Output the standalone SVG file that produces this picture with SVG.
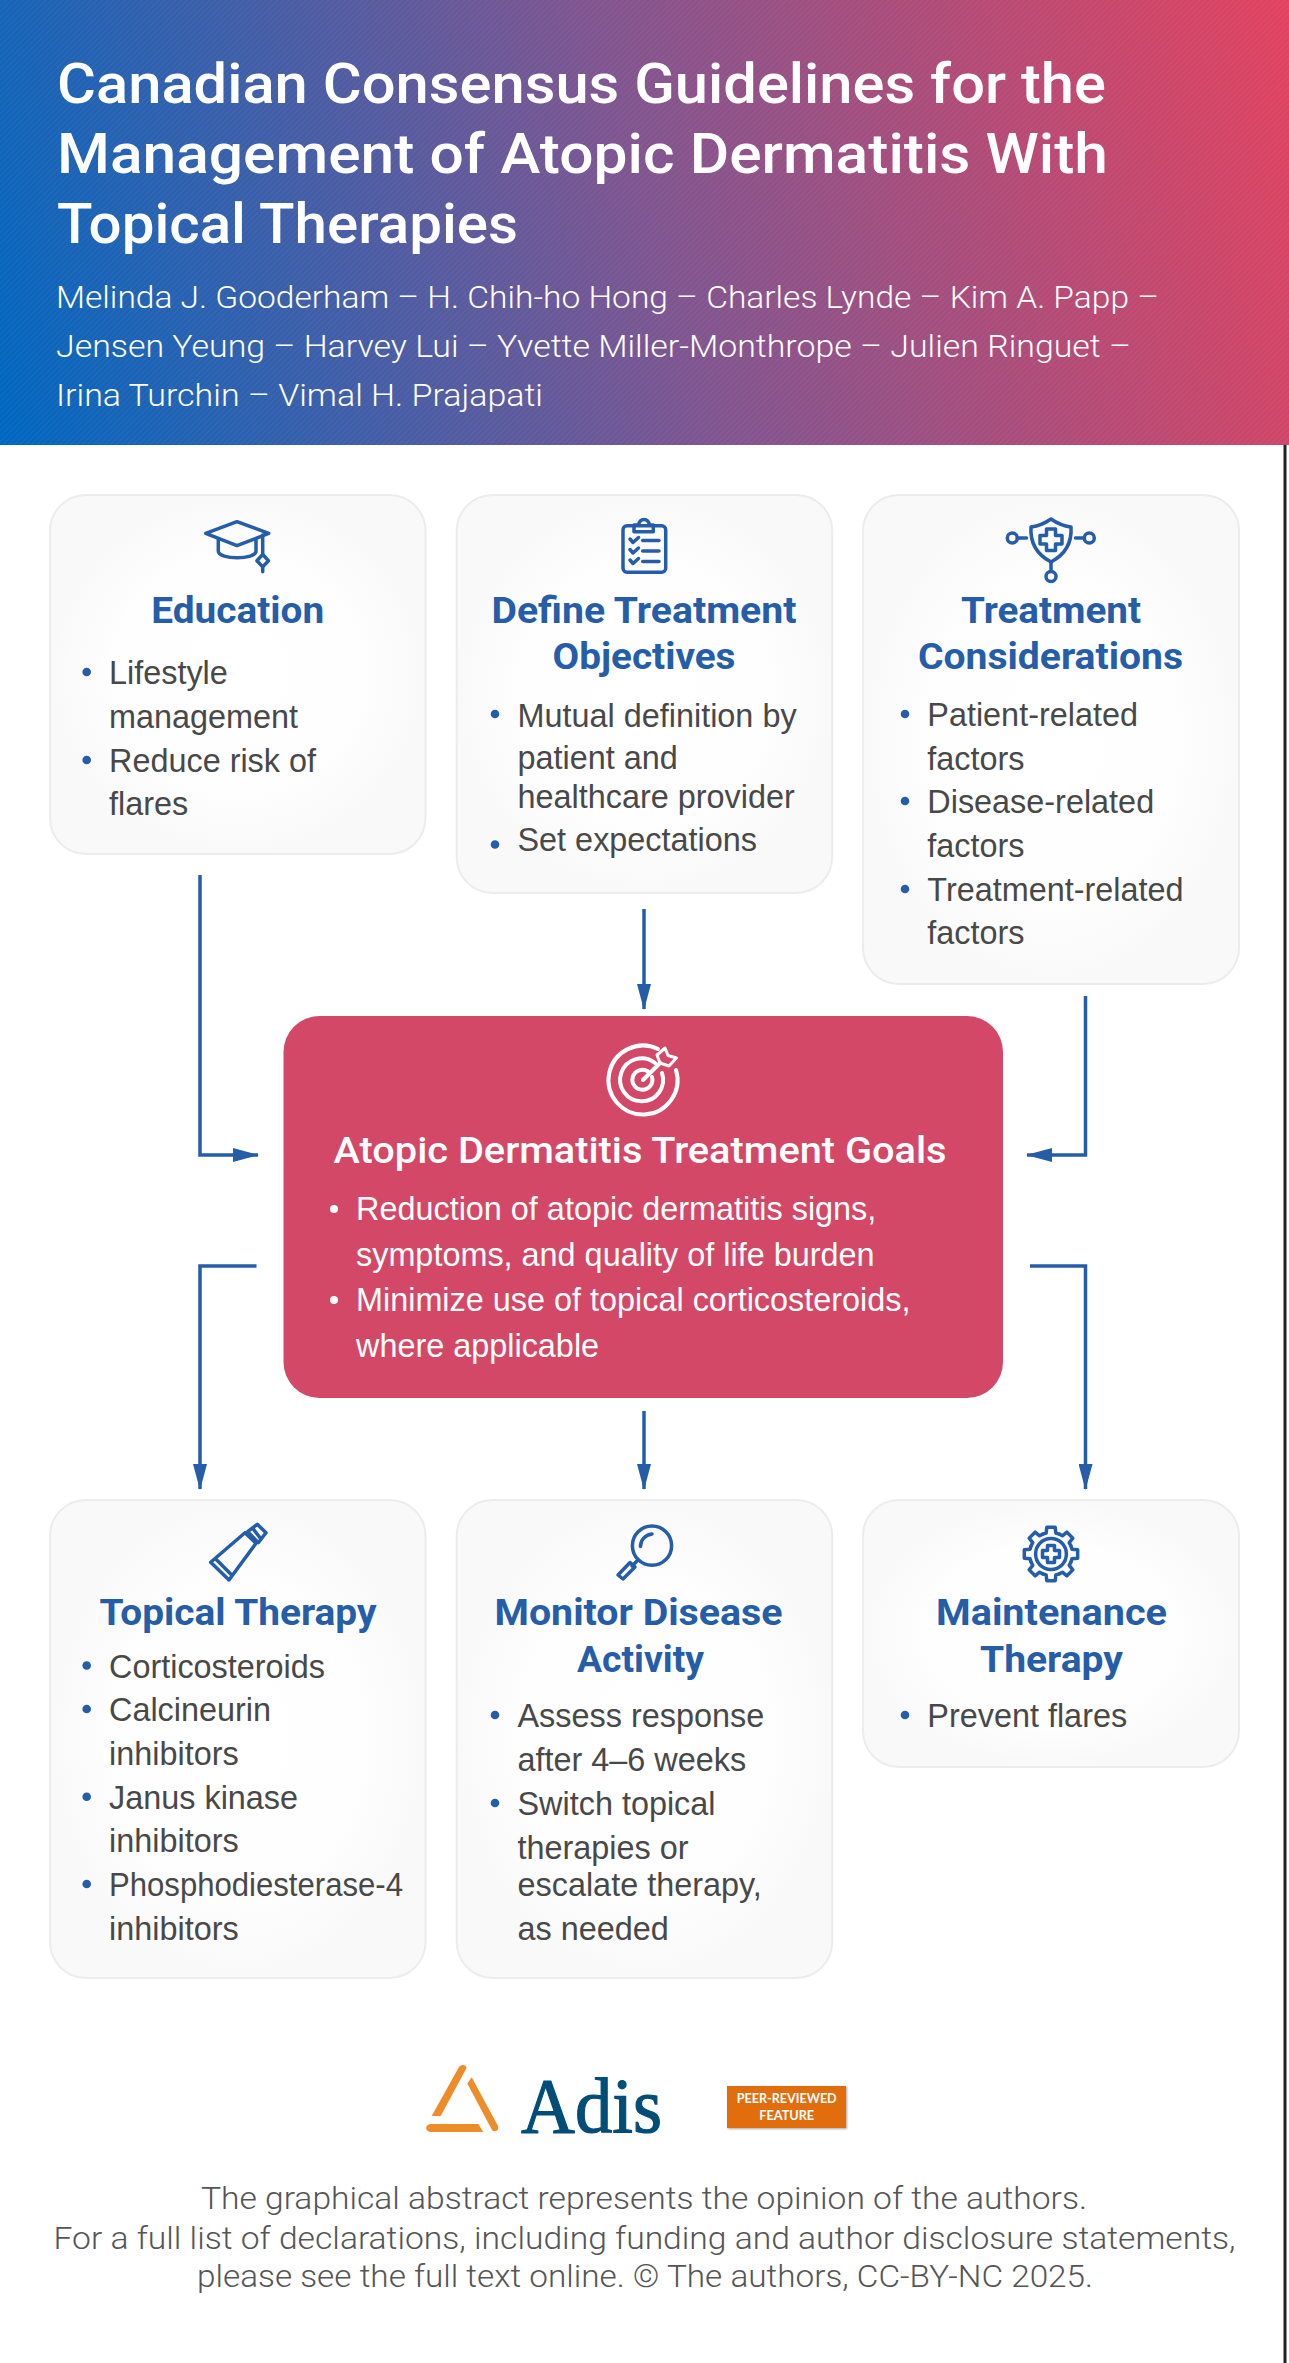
<svg xmlns="http://www.w3.org/2000/svg" xmlns:xlink="http://www.w3.org/1999/xlink" width="1289" height="2363" viewBox="0 0 1289 2363">
<style>
.ttl{font-family:Roboto,"Open Sans",sans-serif;font-weight:500;font-size:55px;fill:#fff}
.auth{font-family:Roboto,"Open Sans",sans-serif;font-weight:300;font-size:32px;fill:#fff}
.ct{font-family:Roboto,"Open Sans",sans-serif;font-weight:700;font-size:37px;fill:#255da8;text-anchor:middle}
.b{font-family:"Liberation Sans",Arial,sans-serif;font-size:32.4px;fill:#484848;transform:translateY(1.2px)}
.bw{font-family:"Liberation Sans",Arial,sans-serif;font-size:32.4px;fill:#fff}
.gt{font-family:Roboto,"Open Sans",sans-serif;font-weight:500;font-size:37px;fill:#fff}
.ft{font-family:Roboto,"Open Sans",sans-serif;font-weight:300;font-size:31px;fill:#555;text-anchor:middle}
.card{fill:url(#cg);stroke:#ececec;stroke-width:2}
.dot{fill:#255da8}
.ic{fill:none;stroke:#255da8;stroke-width:3.5;stroke-linecap:round;stroke-linejoin:round}
.icw{fill:none;stroke:#fff;stroke-width:4;stroke-linecap:round;stroke-linejoin:round}
.con{fill:none;stroke:#255da8;stroke-width:3.5;marker-end:url(#ah)}
.logo{fill:#ee8d27}
</style>
<defs>
<linearGradient id="hg" gradientUnits="userSpaceOnUse" x1="0" y1="425" x2="1300" y2="30">
<stop offset="0" stop-color="#0067c0"/><stop offset=".5" stop-color="#7f5590"/><stop offset="1" stop-color="#e2425f"/>
</linearGradient>
<radialGradient id="cg" cx=".5" cy=".5" r=".5">
<stop offset="0" stop-color="#fff"/><stop offset=".65" stop-color="#fefefe"/><stop offset="1" stop-color="#f9f9f9"/>
</radialGradient>
<pattern id="tx" width="4" height="4" patternUnits="userSpaceOnUse" patternTransform="rotate(45)">
<rect width="1" height="4" fill="#fff" opacity=".05"/>
</pattern>
<marker id="ah" markerUnits="userSpaceOnUse" markerWidth="26" markerHeight="14" refX="25" refY="7" orient="auto" viewBox="0 0 26 14">
<path d="M0,0 L26,7 L0,14 Z" fill="#255da8"/>
</marker>
<path id="tooth" d="M-8.23,-19.86 L-4.84,-20.95 L-4.22,-26.67 L4.22,-26.67 L4.84,-20.95 L8.23,-19.86"/>
<filter id="sh" x="-5%" y="-10%" width="110%" height="125%"><feDropShadow dx="1" dy="1" stdDeviation="1" flood-color="#000" flood-opacity=".35"/></filter>
</defs>
<rect width="1289" height="2363" fill="#fff"/>
<rect x="1283.5" y="445" width="3" height="1918" fill="#222"/>
<g id="header">
<rect width="1289" height="445" fill="url(#hg)"/>
<rect width="1289" height="445" fill="url(#tx)"/>
<text class="ttl" x="57" y="103" textLength="1049" lengthAdjust="spacingAndGlyphs">Canadian Consensus Guidelines for the</text>
<text class="ttl" x="57" y="173" textLength="1051" lengthAdjust="spacingAndGlyphs">Management of Atopic Dermatitis With</text>
<text class="ttl" x="57" y="243" textLength="461" lengthAdjust="spacingAndGlyphs">Topical Therapies</text>
<text class="auth" x="56" y="308" textLength="1103" lengthAdjust="spacingAndGlyphs">Melinda J. Gooderham – H. Chih-ho Hong – Charles Lynde – Kim A. Papp –</text>
<text class="auth" x="56" y="357" textLength="1075" lengthAdjust="spacingAndGlyphs">Jensen Yeung – Harvey Lui – Yvette Miller-Monthrope – Julien Ringuet –</text>
<text class="auth" x="56" y="406" textLength="487" lengthAdjust="spacingAndGlyphs">Irina Turchin – Vimal H. Prajapati</text>
</g>
<g id="connectors">
<path class="con" d="M200,875 V1155 H258"/>
<path class="con" d="M644,909 V1009"/>
<path class="con" d="M1085.5,996 V1155 H1027"/>
<path class="con" d="M256.5,1266 H200 V1489"/>
<path class="con" d="M644,1411 V1489"/>
<path class="con" d="M1030,1266 H1085.5 V1489"/>
</g>
<g id="education">
<rect class="card" x="50" y="495" width="375.500" height="359" rx="36"/>
<g class="ic"><path d="M205.700,533.300 L237,521.700 L268.700,533.300 L237,545.700 Z"/><path d="M218.300,539.300 V551 C218.300,560 256,560 256,551 V539.300"/><path d="M262.700,535 V554"/><path d="M262.700,554.500 L268.500,560.700 L262.700,566.900 L256.900,560.700 Z"/><path d="M262.700,567 V571.700"/></g>
<text class="ct" x="237.700" y="622.500" textLength="173" lengthAdjust="spacingAndGlyphs">Education</text>
<circle class="dot" cx="86.700" cy="672" r="4.300"/><circle class="dot" cx="86.700" cy="760" r="4.300"/>
<text class="b" x="109" y="683">Lifestyle</text><text class="b" x="109" y="727">management</text>
<text class="b" x="109" y="771">Reduce risk of</text><text class="b" x="109" y="814">flares</text>
</g>
<g id="define-objectives">
<rect class="card" x="456.700" y="495" width="375.500" height="398" rx="36"/>
<g class="ic"><rect x="623" y="525.700" width="42.700" height="46.600" rx="4"/><path d="M634,531.700 V525 H638.500 C640,517.500 648,517.500 649.500,525 H653.300 V531.700 Z"/><path d="M642.700,540.500 H659 M642.700,551 H659 M642.700,561.500 H659"/><path d="M630,539 L633,542.500 L638.500,537.500 M630,549.500 L633,553 L638.500,548 M630,560 L633,563.500 L638.500,558.500"/></g>
<text class="ct" x="644" y="622.500" textLength="305" lengthAdjust="spacingAndGlyphs">Define Treatment</text>
<text class="ct" x="644" y="669" textLength="183" lengthAdjust="spacingAndGlyphs">Objectives</text>
<circle class="dot" cx="495" cy="714" r="4.300"/><circle class="dot" cx="495" cy="844.500" r="4.300"/>
<text class="b" x="517.500" y="726">Mutual definition by</text><text class="b" x="517.500" y="768">patient and</text>
<text class="b" x="517.500" y="807">healthcare provider</text><text class="b" x="517.500" y="850">Set expectations</text>
</g>
<g id="treatment-considerations">
<rect class="card" x="863" y="495" width="376" height="489" rx="36"/>
<g class="ic"><path d="M1051,519 C1058,524 1064,526 1071,527 C1072,542 1066,554 1051,562 C1036,554 1030,542 1031,527 C1038,526 1044,524 1051,519 Z"/><path d="M1046.500,529 H1055.500 V535.500 H1062 V544 H1055.500 V550.500 H1046.500 V544 H1040 V535.500 H1046.500 Z"/><circle cx="1012.300" cy="538" r="5"/><path d="M1017.500,538 H1026.500"/><circle cx="1089.300" cy="538" r="5"/><path d="M1075.500,538 H1084"/><circle cx="1051" cy="576.500" r="5"/><path d="M1051,562 V571"/></g>
<text class="ct" x="1051" y="622.500" textLength="180" lengthAdjust="spacingAndGlyphs">Treatment</text>
<text class="ct" x="1050.500" y="669" textLength="265" lengthAdjust="spacingAndGlyphs">Considerations</text>
<circle class="dot" cx="905" cy="714" r="4.300"/><circle class="dot" cx="905" cy="801" r="4.300"/><circle class="dot" cx="905" cy="889" r="4.300"/>
<text class="b" x="927.300" y="725">Patient-related</text><text class="b" x="927.300" y="768.500">factors</text>
<text class="b" x="927.300" y="812">Disease-related</text><text class="b" x="927.300" y="856">factors</text>
<text class="b" x="927.300" y="899.500">Treatment-related</text><text class="b" x="927.300" y="943">factors</text>
</g>
<g id="goals">
<rect x="283.500" y="1016" width="719.500" height="382" rx="36" fill="#d34867"/>
<g class="icw"><path d="M658,1049 A34.500,34.500 0 1 0 676,1070"/><path d="M655,1063 A21.500,21.500 0 1 0 662,1073"/><path d="M648,1071.500 A10,10 0 1 0 652,1077"/><path d="M643,1080 L660,1063"/><path d="M660,1063 L657,1055 L665,1048 L668,1055.500 L676.500,1058 L669,1066 Z" stroke-width="3"/></g>
<text class="gt" x="333.500" y="1162.700" textLength="613" lengthAdjust="spacingAndGlyphs">Atopic Dermatitis Treatment Goals</text>
<circle cx="334" cy="1209" r="4" fill="#fff"/><circle cx="334" cy="1300" r="4" fill="#fff"/>
<text class="bw" x="356" y="1220">Reduction of atopic dermatitis signs,</text>
<text class="bw" x="356" y="1265.700">symptoms, and quality of life burden</text>
<text class="bw" x="356" y="1311">Minimize use of topical corticosteroids,</text>
<text class="bw" x="356" y="1356.700">where applicable</text>
</g>
<g id="topical-therapy">
<rect class="card" x="50" y="1500" width="375.500" height="478" rx="36"/>
<g class="ic"><path d="M245,1532.700 L256,1543.300 L229,1580 L210.700,1562.300 Z"/><path d="M216,1559.300 L231.700,1575"/><path d="M247.700,1531.700 L257.300,1524.300 L266,1532.700 L258.300,1542.700 Z"/><path d="M252.700,1528.300 L260,1537.700"/></g>
<text class="ct" x="238" y="1625" textLength="277" lengthAdjust="spacingAndGlyphs">Topical Therapy</text>
<circle class="dot" cx="86.700" cy="1665.500" r="4.300"/><circle class="dot" cx="86.700" cy="1709" r="4.300"/><circle class="dot" cx="86.700" cy="1796.700" r="4.300"/><circle class="dot" cx="86.700" cy="1884" r="4.300"/>
<text class="b" x="109" y="1676.500">Corticosteroids</text><text class="b" x="109" y="1720">Calcineurin</text>
<text class="b" x="109" y="1764">inhibitors</text><text class="b" x="109" y="1807.700">Janus kinase</text>
<text class="b" x="109" y="1851">inhibitors</text><text class="b" x="109" y="1895" textLength="294" lengthAdjust="spacingAndGlyphs">Phosphodiesterase-4</text>
<text class="b" x="109" y="1939">inhibitors</text>
</g>
<g id="monitor-disease">
<rect class="card" x="456.700" y="1500" width="375.500" height="478" rx="36"/>
<g class="ic"><circle cx="652" cy="1545.700" r="19.600"/><path d="M640.500,1546.500 C640.500,1540 645,1535 652,1534"/><path d="M638,1560 L632,1566"/><path d="M635,1567 L623,1579 L618,1575 L630,1562.500 Z"/></g>
<text class="ct" x="638.500" y="1625" textLength="288" lengthAdjust="spacingAndGlyphs">Monitor Disease</text>
<text class="ct" x="640.500" y="1672" textLength="127" lengthAdjust="spacingAndGlyphs">Activity</text>
<circle class="dot" cx="495" cy="1715" r="4.300"/><circle class="dot" cx="495" cy="1803" r="4.300"/>
<text class="b" x="517.500" y="1726">Assess response</text><text class="b" x="517.500" y="1770">after 4–6 weeks</text>
<text class="b" x="517.500" y="1814">Switch topical</text><text class="b" x="517.500" y="1857.500">therapies or</text>
<text class="b" x="517.500" y="1895">escalate therapy,</text><text class="b" x="517.500" y="1939">as needed</text>
</g>
<g id="maintenance-therapy">
<rect class="card" x="863" y="1500" width="376" height="267" rx="36"/>
<g class="ic" transform="translate(1051,1554)"><use xlink:href="#tooth" href="#tooth"/><use href="#tooth" transform="rotate(45)"/><use href="#tooth" transform="rotate(90)"/><use href="#tooth" transform="rotate(135)"/><use href="#tooth" transform="rotate(180)"/><use href="#tooth" transform="rotate(225)"/><use href="#tooth" transform="rotate(270)"/><use href="#tooth" transform="rotate(315)"/><circle r="15.400"/><path d="M-3.500,-8.500 H3.500 V-3.500 H8.500 V3.500 H3.500 V8.500 H-3.500 V3.500 H-8.500 V-3.500 H-3.500 Z"/></g>
<text class="ct" x="1051.500" y="1625" textLength="231" lengthAdjust="spacingAndGlyphs">Maintenance</text>
<text class="ct" x="1051.500" y="1672" textLength="143" lengthAdjust="spacingAndGlyphs">Therapy</text>
<circle class="dot" cx="905" cy="1715" r="4.300"/>
<text class="b" x="927.300" y="1726">Prevent flares</text>
</g>
<g id="adis-logo">
<path class="logo" d="M431.700,2116 L459,2067 Q462,2063.500 466,2066 Q467,2067.500 466,2069 L440.700,2116 Z"/>
<path class="logo" d="M467.300,2083.500 L471.700,2077.300 L498,2126 Q499,2129.500 496,2131 Q493.500,2132 492,2130 Z"/>
<path class="logo" d="M431,2124 H478.300 L483.300,2132 H431 Q427,2132 426,2128 Q427,2124 431,2124 Z"/>
<text x="521" y="2131.700" font-family="'Liberation Serif','Times New Roman',serif" font-size="78" fill="#004d78" stroke="#004d78" stroke-width="1.200" textLength="141" lengthAdjust="spacingAndGlyphs">Adis</text>
</g>
<g id="badge">
<rect x="727" y="2086" width="119" height="42" fill="#e26d0e" filter="url(#sh)"/>
<text x="786.700" y="2103.300" text-anchor="middle" font-family="Lato,'Open Sans',sans-serif" font-weight="700" font-size="12.500" fill="#fff" textLength="100" lengthAdjust="spacingAndGlyphs">PEER-REVIEWED</text>
<text x="786.700" y="2120" text-anchor="middle" font-family="Lato,'Open Sans',sans-serif" font-weight="700" font-size="12.500" fill="#fff" textLength="55" lengthAdjust="spacingAndGlyphs">FEATURE</text>
</g>
<g id="footer">
<text class="ft" x="644" y="2209" textLength="886" lengthAdjust="spacingAndGlyphs">The graphical abstract represents the opinion of the authors.</text>
<text class="ft" x="644.500" y="2248.700" textLength="1182" lengthAdjust="spacingAndGlyphs">For a full list of declarations, including funding and author disclosure statements,</text>
<text class="ft" x="645" y="2287" textLength="896" lengthAdjust="spacingAndGlyphs">please see the full text online. © The authors, CC-BY-NC 2025.</text>
</g>
</svg>
